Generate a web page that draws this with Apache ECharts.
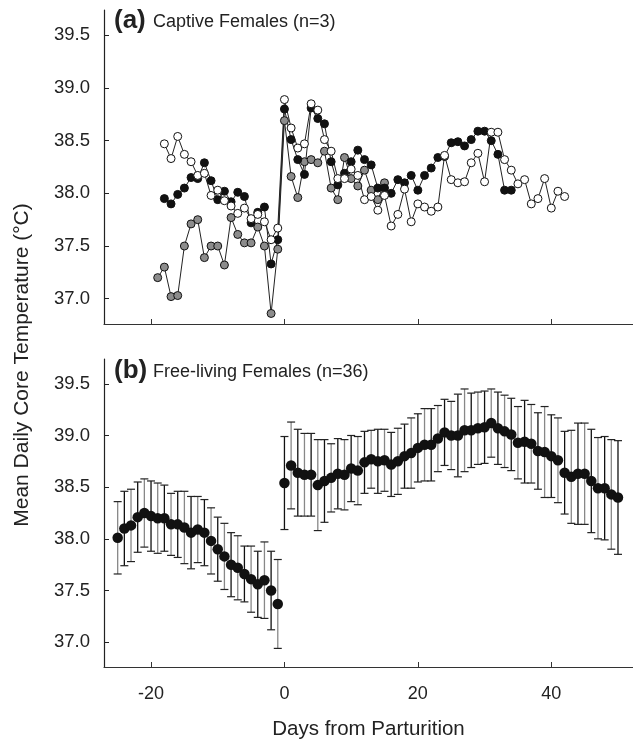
<!DOCTYPE html>
<html>
<head>
<meta charset="utf-8">
<script src="https://cdn.jsdelivr.net/npm/echarts@6/dist/echarts.min.js"></script>
<style>
html,body{margin:0;padding:0;background:#fff;}
#chart{width:633px;height:741px;}
</style>
</head>
<body>
<div id="chart"></div>
<script>
// ---------- Data ----------
// Panel (a): captive females, one series per female, consecutive days
var whiteStart = -18;
var whiteVals = [38.47, 38.33, 38.54, 38.37, 38.30, 38.17, 38.19, 37.98, 38.03, 37.93, 37.88, 37.81, 37.86, 37.76, 37.80, 37.73, 37.56, 37.67, 38.89,
  38.62, 38.43, 38.47, 38.85, 38.79, 38.51, 38.40, 38.14, 38.14, 38.23, 38.17, 37.94, 37.97, 37.84, 37.98, 37.69, 37.80, 38.04, 37.73, 37.90, 37.87, 37.83, 37.87, 38.36,
  38.13, 38.10, 38.11, 38.29, 38.38, 38.11, 38.58, 38.58, 38.32, 38.22, 38.09, 38.13, 37.90, 37.95, 38.14, 37.86, 38.02, 37.97];
var blackStart = -18;
var blackVals = [37.95, 37.90, 37.99, 38.05, 38.15, 38.14, 38.29, 38.12, 37.94, 38.02, 37.92, 38.01, 37.97, 37.72, 37.82, 37.87, 37.33, 37.56, 38.80,
  38.51, 38.32, 38.18, 38.81, 38.71, 38.66, 38.30, 38.08, 38.19, 38.30, 38.41, 38.32, 38.27, 38.05, 38.05, 38.00, 38.13, 38.10, 38.17, 38.03,
  38.17, 38.24, 38.34, 38.35, 38.48, 38.49, 38.45, 38.51, 38.59, 38.59, 38.50, 38.37, 38.03, 38.03];
var grayStart = -19;
var grayVals = [37.20, 37.30, 37.02, 37.03, 37.50, 37.71, 37.75, 37.39, 37.50, 37.50, 37.32, 37.77, 37.61, 37.53, 37.53, 37.68, 37.50, 36.86, 37.47, 38.69,
  38.16, 37.96, 38.30, 38.32, 38.29, 38.40, 38.05, 37.94, 38.34, 38.14, 38.07, 38.22, 38.03, 37.94, 38.10];

// Panel (b): free-living females, mean and SD per day
var freeStart = -25;
var freeMean = [38.01, 38.10, 38.13, 38.21, 38.25, 38.22, 38.20, 38.20, 38.14, 38.14, 38.11, 38.06, 38.09, 38.06, 37.98, 37.90, 37.83, 37.75, 37.72, 37.66, 37.61, 37.56, 37.60, 37.50, 37.37,
  38.54, 38.71, 38.64, 38.62, 38.62, 38.52, 38.56, 38.59, 38.63, 38.62, 38.68, 38.66, 38.74, 38.77, 38.75, 38.76, 38.72, 38.75, 38.80, 38.83, 38.88,
  38.91, 38.91, 38.97, 39.03, 39.00, 39.00, 39.05, 39.05, 39.07, 39.08, 39.12, 39.07, 39.04, 39.01, 38.93, 38.94, 38.92, 38.85, 38.84, 38.80,
  38.76, 38.64, 38.60, 38.63, 38.63, 38.56, 38.49, 38.49, 38.43, 38.40];
var freeSD = [0.35, 0.36, 0.35, 0.34, 0.33, 0.34, 0.34, 0.32, 0.30, 0.32, 0.35, 0.35, 0.32, 0.32, 0.32, 0.31, 0.32, 0.31, 0.31, 0.27, 0.32, 0.32, 0.37, 0.38, 0.43,
  0.45, 0.42, 0.42, 0.40, 0.40, 0.44, 0.40, 0.33, 0.34, 0.34, 0.32, 0.33, 0.30, 0.28, 0.31, 0.30, 0.31, 0.32, 0.31, 0.34, 0.33,
  0.35, 0.35, 0.32, 0.32, 0.33, 0.40, 0.40, 0.36, 0.35, 0.35, 0.33, 0.35, 0.35, 0.35, 0.35, 0.40, 0.38, 0.37, 0.44, 0.40,
  0.41, 0.40, 0.45, 0.49, 0.49, 0.50, 0.49, 0.50, 0.53, 0.55];

var xTicks = [-20, 0, 20, 40];
var yTicks = [37.0, 37.5, 38.0, 38.5, 39.0, 39.5];

// ---------- Build ----------
function pairs(start, vals) { return vals.map(function (v, i) { return [start + i, v]; }); }
var FONT = '"Liberation Sans", Arial, Helvetica, sans-serif';
var TXT = '#222';

function xAxisCfg(gi, showLabels) {
  var ax = {
    gridIndex: gi, type: 'value', min: -27.05, max: 52.25,
    axisLine: { onZero: false, lineStyle: { color: '#333', width: 1.2 } },
    axisTick: { show: true, inside: true, length: 5, customValues: xTicks, lineStyle: { color: '#333' } },
    axisLabel: { show: showLabels, customValues: xTicks, fontSize: 18, fontFamily: FONT, color: TXT, margin: 18 },
    splitLine: { show: false }
  };
  if (showLabels) {
    ax.name = 'Days from Parturition';
    ax.nameLocation = 'middle';
    ax.nameGap = 52;
    ax.nameTextStyle = { fontSize: 20.5, fontFamily: FONT, color: TXT };
  }
  return ax;
}
function yAxisCfg(gi) {
  return {
    gridIndex: gi, type: 'value', min: 36.76, max: 39.74,
    axisLine: { show: true, onZero: false, lineStyle: { color: '#222', width: 1.2 } },
    axisTick: { show: true, inside: true, length: 5, customValues: yTicks, lineStyle: { color: '#222' } },
    axisLabel: { customValues: yTicks, fontSize: 18.5, fontFamily: FONT, color: TXT, margin: 14,
      formatter: function (v) { return Number(v).toFixed(1); } },
    splitLine: { show: false }
  };
}
function capSeries(name, start, vals, fill) {
  return {
    name: name, type: 'line', xAxisIndex: 0, yAxisIndex: 0,
    data: pairs(start, vals), symbol: 'circle', symbolSize: 8,
    lineStyle: { color: '#222', width: 1 },
    itemStyle: { color: fill, borderColor: '#111', borderWidth: 1, opacity: 1 },
    emphasis: { disabled: true }
  };
}

var freeData = freeMean.map(function (m, i) { return [freeStart + i, m, freeSD[i]]; });

var option = {
  animation: false,
  backgroundColor: '#fff',
  grid: [
    { left: 104, top: 10, width: 529, height: 314 },
    { left: 104, top: 359, width: 529, height: 314 }
  ],
  xAxis: [xAxisCfg(0, false), xAxisCfg(1, true)],
  yAxis: [yAxisCfg(0), yAxisCfg(1)],
  graphic: [
    { type: 'text', x: 22, y: 365, rotation: Math.PI / 2,
      style: { text: 'Mean Daily Core Temperature (°C)', font: '21px ' + FONT, fill: TXT, textAlign: 'center', textVerticalAlign: 'middle' } },
    { type: 'text', x: 114, y: 21, style: { text: '(a)', font: 'bold 26px ' + FONT, fill: TXT, textAlign: 'left', textVerticalAlign: 'middle' } },
    { type: 'text', x: 153, y: 22, style: { text: 'Captive Females (n=3)', font: '18px ' + FONT, fill: TXT, textAlign: 'left', textVerticalAlign: 'middle' } },
    { type: 'text', x: 114, y: 371, style: { text: '(b)', font: 'bold 26px ' + FONT, fill: TXT, textAlign: 'left', textVerticalAlign: 'middle' } },
    { type: 'text', x: 153, y: 372, style: { text: 'Free-living Females (n=36)', font: '18px ' + FONT, fill: TXT, textAlign: 'left', textVerticalAlign: 'middle' } }
  ],
  series: [
    capSeries('Female 3', grayStart, grayVals, '#8c8c8c'),
    capSeries('Female 2', blackStart, blackVals, '#111'),
    capSeries('Female 1', whiteStart, whiteVals, '#fff'),
    {
      name: 'SD', type: 'custom', xAxisIndex: 1, yAxisIndex: 1,
      data: freeData, encode: { x: 0, y: 1 },
      renderItem: function (params, api) {
        var x = api.value(0), m = api.value(1), s = api.value(2);
        var top = api.coord([x, m + s]);
        var bot = api.coord([x, m - s]);
        var w = 4;
        var col = params.dataIndex % 2 === 0 ? '#888' : '#111';
        return {
          type: 'group',
          children: [
            { type: 'line', shape: { x1: top[0], y1: top[1], x2: bot[0], y2: bot[1] }, style: { stroke: col, lineWidth: 1.3 } },
            { type: 'line', shape: { x1: top[0] - w, y1: top[1], x2: top[0] + w, y2: top[1] }, style: { stroke: '#222', lineWidth: 1.2 } },
            { type: 'line', shape: { x1: bot[0] - w, y1: bot[1], x2: bot[0] + w, y2: bot[1] }, style: { stroke: '#222', lineWidth: 1.2 } }
          ]
        };
      },
      z: 1
    },
    {
      name: 'Mean', type: 'scatter', xAxisIndex: 1, yAxisIndex: 1,
      data: freeData.map(function (d) { return [d[0], d[1]]; }),
      symbol: 'circle', symbolSize: 10.5,
      itemStyle: { color: '#111', opacity: 1 },
      emphasis: { disabled: true },
      z: 3
    }
  ]
};

var chart = echarts.init(document.getElementById('chart'), null, { renderer: 'canvas' });
chart.setOption(option);
</script>
</body>
</html>
